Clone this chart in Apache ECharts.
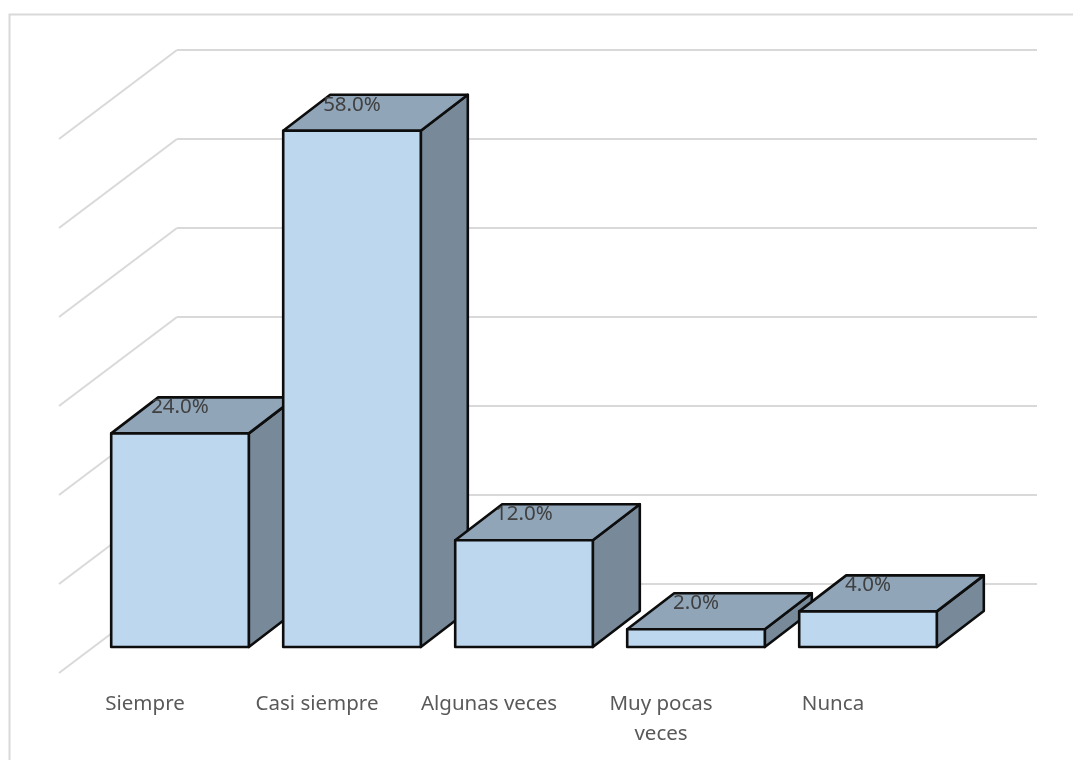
<!DOCTYPE html>
<html>
<head>
<meta charset="utf-8">
<style>html,body{margin:0;padding:0;background:#fff}#chart{width:1073px;height:760px}</style>
<script src="https://cdn.jsdelivr.net/npm/echarts@6/dist/echarts.min.js"></script>
</head>
<body>
<div id="chart"></div>
<script>
const categories = ['Siempre', 'Casi siempre', 'Algunas veces', 'Muy pocas\nveces', 'Nunca'];
const percentages = [24, 58, 12, 2, 4];
const wallTicks = [0, 10, 20, 30, 40, 50, 60];

// Projection of the chart depth, in pixels
const FLOOR_DX = 118, FLOOR_DY = 89;   // full floor depth (side wall diagonals)
const BAR_DX = 47, BAR_DY = 36;        // depth of one bar
const BAR_FILL = 0.8;                  // share of the category band used by a bar

const chart = echarts.init(document.getElementById('chart'), null, {renderer: 'canvas'});

function renderBar(params, api) {
  const idx = api.value(0);
  const top = api.coord([idx, api.value(1)]);
  const base = api.coord([idx, 0]);
  const w = api.size([1, 0])[0] * BAR_FILL;
  const l = top[0] - w / 2, r = top[0] + w / 2;
  const yt = top[1], yb = base[1];
  const stroke = {stroke: '#0d0d0d', lineWidth: 2.6, lineJoin: 'round'};
  const poly = (points, fill) => ({
    type: 'polygon',
    shape: {points},
    style: Object.assign({fill}, stroke)
  });
  return {
    type: 'group',
    children: [
      poly([[r, yt], [r + BAR_DX, yt - BAR_DY], [r + BAR_DX, yb - BAR_DY], [r, yb]], '#788a9a'),
      poly([[l, yt], [l + BAR_DX, yt - BAR_DY], [r + BAR_DX, yt - BAR_DY], [r, yt]], '#90a5b8'),
      poly([[l, yt], [r, yt], [r, yb], [l, yb]], '#bdd7ee'),
      {
        type: 'text',
        z2: 10,
        style: {
          text: api.value(1).toFixed(1) + '%',
          x: top[0],
          y: yt - 26,
          align: 'center',
          verticalAlign: 'middle',
          fill: '#404040',
          font: '20.5px "Noto Sans"'
        }
      }
    ]
  };
}

function renderDiagonal(params, api) {
  const p = api.coord([0, api.value(0)]);
  const x0 = params.coordSys.x;
  return {
    type: 'line',
    shape: {x1: x0, y1: p[1], x2: x0 - FLOOR_DX, y2: p[1] + FLOOR_DY},
    style: {stroke: '#d9d9d9', lineWidth: 2}
  };
}

const hiddenAxis = {
  axisLine: {show: false}, axisTick: {show: false}, axisLabel: {show: false}, splitLine: {show: false}
};
const valueAxisBase = {type: 'value', min: 0, max: 60, interval: 10};

chart.setOption({
  animation: false,
  backgroundColor: '#fff',
  graphic: [{
    type: 'polyline',
    shape: {points: [[9.5, 760], [9.5, 14.5], [1073, 14.5]]},
    style: {stroke: '#d9d9d9', lineWidth: 2, fill: null},
    silent: true
  }],
  grid: [
    // back wall
    {left: 177, top: 50, width: 860, height: 534},
    // plane of the bars' front faces
    {left: 94, top: 113, width: 860, height: 534},
    // front edge of the floor, carries the category labels
    {left: 59, top: 139, width: 860, height: 534}
  ],
  xAxis: [
    Object.assign({type: 'category', data: categories, gridIndex: 0}, hiddenAxis),
    Object.assign({type: 'category', data: categories, gridIndex: 1}, hiddenAxis),
    {
      type: 'category', data: categories, gridIndex: 2,
      axisLine: {show: false}, axisTick: {show: false}, splitLine: {show: false},
      axisLabel: {
        interval: 0, margin: 16, color: '#595959',
        fontFamily: 'Noto Sans', fontSize: 20.5, lineHeight: 30
      }
    }
  ],
  yAxis: [
    Object.assign({}, valueAxisBase, hiddenAxis, {
      gridIndex: 0,
      splitLine: {show: true, lineStyle: {color: '#d9d9d9', width: 2}}
    }),
    Object.assign({}, valueAxisBase, hiddenAxis, {gridIndex: 1}),
    Object.assign({}, valueAxisBase, hiddenAxis, {gridIndex: 2})
  ],
  series: [
    {
      type: 'custom', xAxisIndex: 0, yAxisIndex: 0, z: 1, silent: true, clip: false,
      encode: {y: 0},
      data: wallTicks.map(v => [v]),
      renderItem: renderDiagonal
    },
    {
      type: 'custom', xAxisIndex: 1, yAxisIndex: 1, z: 3, silent: true, clip: false,
      encode: {x: 0, y: 1},
      data: percentages.map((v, i) => [i, v]),
      renderItem: renderBar
    }
  ]
});
</script>
</body>
</html>
